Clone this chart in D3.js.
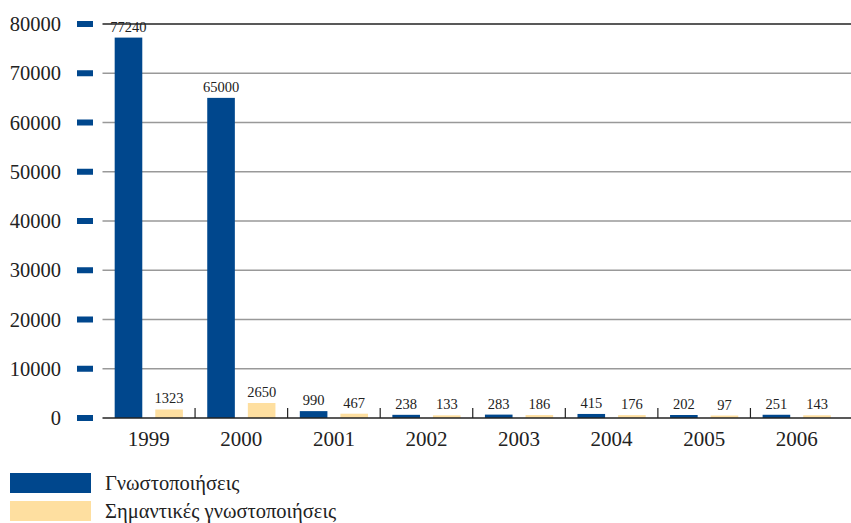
<!DOCTYPE html>
<html><head><meta charset="utf-8">
<script src="https://cdn.jsdelivr.net/npm/d3@7"></script>
<style>body{margin:0;background:#fff;}svg{display:block;font-family:"Liberation Serif","DejaVu Serif",serif;}</style>
</head><body>
<script>
const years = ["1999","2000","2001","2002","2003","2004","2005","2006"];
const notifications = [77240,65000,990,238,283,415,202,251];
const significant = [1323,2650,467,133,186,176,97,143];
const yTicks = [0,10000,20000,30000,40000,50000,60000,70000,80000];
const seriesNames = ["Γνωστοποιήσεις","Σημαντικές γνωστοποιήσεις"];
const colors = ["#00478D","#FEDFA0"];

const W=851,H=523;
const svg=d3.select("body").append("svg").attr("width",W).attr("height",H);
const x=d3.scaleBand().domain(years).range([102.5,843]).paddingInner(0).paddingOuter(0);
const y=d3.scaleLinear().domain([0,80000]).range([418,24]);
const barH=d=>{const h=y(0)-y(d);return Math.max(h,Math.min(h+2,15));};

// gridlines
svg.append("g").selectAll("line").data(yTicks.filter(d=>d>0)).join("line")
  .attr("x1",102.5).attr("x2",W).attr("y1",d=>y(d)).attr("y2",d=>y(d))
  .attr("stroke",d=>d===80000?"#222":"#999").attr("stroke-width",1.3);

// y labels and blue tick marks
const yl=svg.append("g");
yl.selectAll("text").data(yTicks).join("text")
  .attr("x",61).attr("y",d=>y(d)).attr("dy","0.35em").attr("text-anchor","end")
  .attr("font-size",20.5).attr("fill","#222").text(d=>d);
yl.selectAll("rect").data(yTicks).join("rect")
  .attr("x",77).attr("width",16).attr("y",d=>y(d)-3).attr("height",6).attr("fill",colors[0]);

// bars
const inner=d3.scaleBand().domain([0,1]).range([0,x.bandwidth()]).paddingInner(0.32).paddingOuter(0.3);
const series=[notifications,significant];
series.forEach((vals,si)=>{
  const g=svg.append("g");
  g.selectAll("rect").data(vals).join("rect")
    .attr("x",(d,i)=>x(years[i])+inner(si)).attr("width",inner.bandwidth())
    .attr("y",d=>y(0)-barH(d)).attr("height",d=>barH(d))
    .attr("fill",colors[si]);
  g.selectAll("text").data(vals).join("text")
    .attr("x",(d,i)=>x(years[i])+inner(si)+inner.bandwidth()/2)
    .attr("y",d=>y(0)-barH(d)-6)
    .attr("text-anchor","middle").attr("font-size",14.5).attr("fill","#222").text(d=>d);
});

// baseline and category dividers
svg.append("line").attr("x1",102.5).attr("x2",W).attr("y1",y(0)).attr("y2",y(0)).attr("stroke","#222").attr("stroke-width",1.3);
svg.append("g").selectAll("line").data(years.slice(1)).join("line")
  .attr("x1",d=>x(d)).attr("x2",d=>x(d)).attr("y1",y(0)-10).attr("y2",y(0)).attr("stroke","#222").attr("stroke-width",1.2);
svg.append("g").selectAll("text").data(years).join("text")
  .attr("x",d=>x(d)+x.bandwidth()/2).attr("y",446).attr("text-anchor","middle")
  .attr("font-size",21).attr("fill","#222").text(d=>d);

// legend
const lg=svg.append("g");
seriesNames.forEach((n,i)=>{
  lg.append("rect").attr("x",10).attr("y",473+i*28).attr("width",81).attr("height",20).attr("fill",colors[i]);
  lg.append("text").attr("x",105).attr("y",483+i*28).attr("dy","0.35em").attr("font-size",20.5).attr("fill","#222").text(n);
});
</script>
</body></html>
